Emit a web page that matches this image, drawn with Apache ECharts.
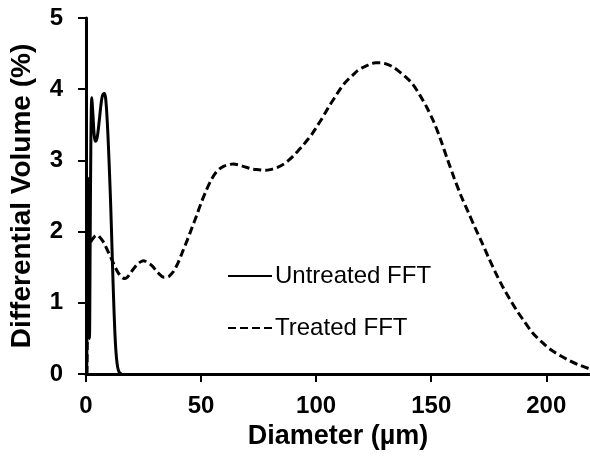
<!DOCTYPE html>
<html>
<head>
<meta charset="utf-8">
<script src="https://cdn.jsdelivr.net/npm/echarts@6/dist/echarts.min.js"></script>
<style>
  html, body { margin: 0; padding: 0; background: #fff; }
  #chart { width: 590px; height: 460px; }
</style>
</head>
<body>
<div id="chart"></div>
<script>
// Particle size distributions: diameter (µm) vs differential volume (%)
const untreatedDiameter = [0.3, 0.6, 0.9, 1.1, 1.3, 1.5, 1.8, 2.1, 2.5, 3.0, 3.5, 4.0, 4.5, 5.0, 5.5, 6.0, 6.5, 7.0, 7.5, 8.0, 8.5, 9.0, 9.5, 10.0, 10.5, 11.0, 11.5, 12.0, 12.5, 13.0, 13.5, 14.0, 14.5, 15.0, 15.5];
const untreatedVolume   = [0, 1.4, 2.75, 1.5, 0.6, 0.5, 1.8, 3.2, 3.88, 3.65, 3.38, 3.27, 3.28, 3.35, 3.48, 3.63, 3.78, 3.89, 3.93, 3.94, 3.88, 3.68, 3.38, 3.0, 2.58, 2.1, 1.55, 1.05, 0.62, 0.32, 0.15, 0.06, 0.02, 0.005, 0];

const treatedDiameter = [0.4, 0.7, 1.0, 1.4, 2, 3, 4, 5, 6, 7, 8, 9, 10, 11, 12, 13, 14, 15, 16, 17, 18, 19, 20, 21, 22, 23, 24, 25, 26, 27, 28, 29, 30, 31, 32, 33, 34, 35, 36, 37, 38, 40, 42, 44, 46, 48, 50, 52, 54, 56, 58, 60, 62, 64, 66, 68, 70, 72, 75, 78, 80, 83, 86, 88, 90, 92, 94, 96, 98, 100, 102, 104, 106, 108, 110, 112, 114, 116, 118, 120, 122, 124, 126, 128, 130, 133, 136, 139, 142, 145, 148, 151, 154, 157, 160, 163, 166, 169, 172, 175, 178, 181, 184, 187, 190, 194, 198, 202, 206, 210, 214, 219];
const treatedVolume   = [0, 0.9, 1.5, 1.75, 1.85, 1.9, 1.94, 1.95, 1.92, 1.88, 1.83, 1.76, 1.69, 1.62, 1.55, 1.48, 1.42, 1.38, 1.35, 1.34, 1.36, 1.4, 1.45, 1.49, 1.53, 1.56, 1.58, 1.59, 1.58, 1.56, 1.54, 1.51, 1.47, 1.43, 1.4, 1.37, 1.36, 1.36, 1.37, 1.4, 1.44, 1.56, 1.72, 1.88, 2.05, 2.22, 2.4, 2.56, 2.7, 2.81, 2.88, 2.92, 2.94, 2.95, 2.94, 2.92, 2.9, 2.88, 2.87, 2.86, 2.87, 2.9, 2.95, 3.0, 3.06, 3.13, 3.2, 3.28, 3.36, 3.46, 3.56, 3.67, 3.78, 3.88, 3.98, 4.07, 4.14, 4.2, 4.26, 4.3, 4.33, 4.36, 4.37, 4.37, 4.36, 4.32, 4.25, 4.17, 4.07, 3.92, 3.75, 3.55, 3.3, 3.02, 2.75, 2.5, 2.28, 2.06, 1.85, 1.63, 1.42, 1.23, 1.06, 0.9, 0.76, 0.58, 0.45, 0.34, 0.26, 0.19, 0.13, 0.07];

const xTicks = [0, 50, 100, 150, 200];
const seriesNames = ['Untreated FFT', 'Treated FFT'];

const pairs = (xs, ys) => xs.map((x, i) => [x, ys[i]]);
const FONT = "'Liberation Sans', Arial, sans-serif";

const chart = echarts.init(document.getElementById('chart'), null, { renderer: 'canvas' });
chart.setOption({
  animation: false,
  backgroundColor: '#fff',
  grid: { left: 86, right: 0, top: 18, bottom: 86 },
  legend: {
    orient: 'vertical',
    left: 222,
    top: 259,
    itemWidth: 44,
    itemHeight: 14,
    itemGap: 28,
    itemStyle: { opacity: 0 },
    textStyle: { fontFamily: FONT, fontSize: 24, color: '#000', padding: [0, 0, 0, -2] },
    data: seriesNames
  },
  xAxis: {
    type: 'value',
    min: 0,
    max: 219,
    interval: 50,
    name: 'Diameter (µm)',
    nameLocation: 'middle',
    nameGap: 44,
    nameTextStyle: { fontFamily: FONT, fontSize: 27, fontWeight: 'bold', color: '#000' },
    axisLine: { show: true, onZero: false, lineStyle: { color: '#000', width: 3 } },
    axisTick: { show: true, length: 8, lineStyle: { color: '#000', width: 2 }, customValues: xTicks },
    axisLabel: { fontFamily: FONT, fontSize: 24, fontWeight: 'bold', color: '#000', margin: 20, customValues: xTicks },
    splitLine: { show: false }
  },
  yAxis: {
    type: 'value',
    min: 0,
    max: 5,
    interval: 1,
    name: 'Differential Volume (%)',
    nameLocation: 'middle',
    nameGap: 50,
    nameTextStyle: { fontFamily: FONT, fontSize: 28, fontWeight: 'bold', color: '#000' },
    axisLine: { show: true, lineStyle: { color: '#000', width: 3 } },
    axisTick: { show: true, length: 8, lineStyle: { color: '#000', width: 2 } },
    axisLabel: { fontFamily: FONT, fontSize: 24, fontWeight: 'bold', color: '#000', margin: 23 },
    splitLine: { show: false }
  },
  series: [
    {
      name: seriesNames[0],
      type: 'line',
      data: pairs(untreatedDiameter, untreatedVolume),
      showSymbol: false,
      symbol: 'none',
      smooth: 0.3,
      lineStyle: { color: '#000', width: 3, type: 'solid' },
      itemStyle: { color: '#000' },
      z: 3
    },
    {
      name: seriesNames[1],
      type: 'line',
      data: pairs(treatedDiameter, treatedVolume),
      showSymbol: false,
      symbol: 'none',
      smooth: 0.3,
      lineStyle: { color: '#000', width: 3, type: [8, 4] },
      itemStyle: { color: '#000' },
      z: 2
    }
  ]
});
</script>
</body>
</html>
